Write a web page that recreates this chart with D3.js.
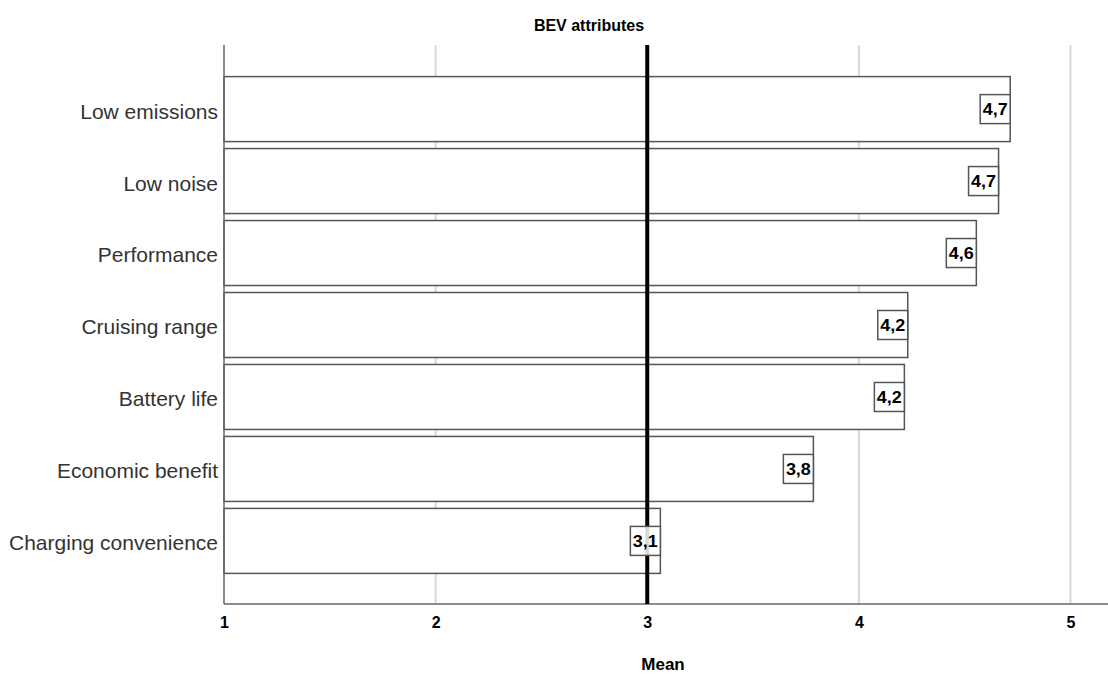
<!DOCTYPE html>
<html>
<head>
<meta charset="utf-8">
<script src="https://cdn.jsdelivr.net/npm/d3@7"></script>
<style>
  html, body { margin: 0; padding: 0; background: #fff; }
  svg { display: block; }
</style>
</head>
<body>
<svg id="chart" width="1108" height="677"></svg>
<script>
const categories = ["Low emissions", "Low noise", "Performance", "Cruising range", "Battery life", "Economic benefit", "Charging convenience"];
const means = [4.715, 4.66, 4.555, 4.231, 4.215, 3.785, 3.062];
const xTicks = [1, 2, 3, 4, 5];
const referenceValue = 3;
const title = "BEV attributes";
const xTitle = "Mean";

const svg = d3.select("#chart");
const plot = { left: 224, right: 1108, top: 45, bottom: 604 };

const x = d3.scaleLinear().domain([1, 5]).range([224, 1070.5]);
const y = d3.scaleBand().domain(categories).range([73, 577]).paddingInner(0.097).paddingOuter(0.05);

// gridlines
svg.append("g").selectAll("line").data(xTicks.filter(t => t !== 1 && t !== referenceValue)).join("line")
  .attr("x1", d => x(d)).attr("x2", d => x(d))
  .attr("y1", plot.top).attr("y2", plot.bottom)
  .attr("stroke", "#d9d9d9").attr("stroke-width", 2);

// bars
svg.append("g").selectAll("rect").data(categories).join("rect")
  .attr("x", x(1))
  .attr("y", d => y(d))
  .attr("width", (d, i) => x(means[i]) - x(1))
  .attr("height", y.bandwidth())
  .attr("fill", "#fff")
  .attr("stroke", "#555")
  .attr("stroke-width", 1.5);

// y axis line
svg.append("line").attr("x1", x(1)).attr("x2", x(1))
  .attr("y1", plot.top).attr("y2", plot.bottom)
  .attr("stroke", "#666").attr("stroke-width", 1.5);

// x axis
const xAxis = d3.axisBottom(x).tickValues(xTicks).tickSize(0).tickPadding(13).tickFormat(d3.format("d"));
const gx = svg.append("g").attr("transform", `translate(0,${plot.bottom})`).call(xAxis);
gx.attr("font-size", null).attr("font-family", null);
gx.select(".domain").remove();
gx.selectAll("text")
  .style("font-family", "Liberation Sans, Arial, sans-serif")
  .style("font-weight", "bold").style("font-size", "16px").attr("fill", "#000");
svg.append("line").attr("x1", plot.left).attr("x2", plot.right)
  .attr("y1", plot.bottom).attr("y2", plot.bottom)
  .attr("stroke", "#666").attr("stroke-width", 1.5);

// reference line
svg.append("line").attr("x1", x(referenceValue)).attr("x2", x(referenceValue))
  .attr("y1", plot.top).attr("y2", plot.bottom)
  .attr("stroke", "#000").attr("stroke-width", 4);

// category labels
svg.append("g").selectAll("text").data(categories).join("text")
  .attr("x", x(1) - 6)
  .attr("y", d => y(d) + y.bandwidth() / 2)
  .attr("dy", "0.45em")
  .attr("text-anchor", "end")
  .attr("font-family", "Liberation Sans, Arial, sans-serif")
  .attr("font-size", 21)
  .attr("fill", "#333")
  .text(d => d);

// value labels
const fmt = v => d3.format(".1f")(v).replace(".", ",");
const lg = svg.append("g").selectAll("g").data(categories).join("g")
  .attr("transform", (d, i) => `translate(${x(means[i])},${y(d) + y.bandwidth() / 2})`);
lg.append("rect").attr("x", -30).attr("y", -14.5).attr("width", 30).attr("height", 29)
  .attr("fill", "#fff").attr("fill-opacity", 0.85).attr("stroke", "#555").attr("stroke-width", 1.5);
lg.append("text").attr("x", -15).attr("dy", "0.36em").attr("text-anchor", "middle")
  .attr("font-family", "Liberation Sans, Arial, sans-serif")
  .attr("font-weight", "bold").attr("font-size", 17).attr("fill", "#000")
  .attr("textLength", 25).attr("lengthAdjust", "spacingAndGlyphs")
  .text((d, i) => fmt(means[i]));

// titles
svg.append("text").attr("x", 589).attr("y", 31).attr("text-anchor", "middle")
  .attr("font-family", "Liberation Sans, Arial, sans-serif").attr("font-weight", "bold")
  .attr("font-size", 16).attr("fill", "#000").text(title);
svg.append("text").attr("x", 663).attr("y", 670).attr("text-anchor", "middle")
  .attr("font-family", "Liberation Sans, Arial, sans-serif").attr("font-weight", "bold")
  .attr("font-size", 17).attr("fill", "#000").text(xTitle);
</script>
</body>
</html>
